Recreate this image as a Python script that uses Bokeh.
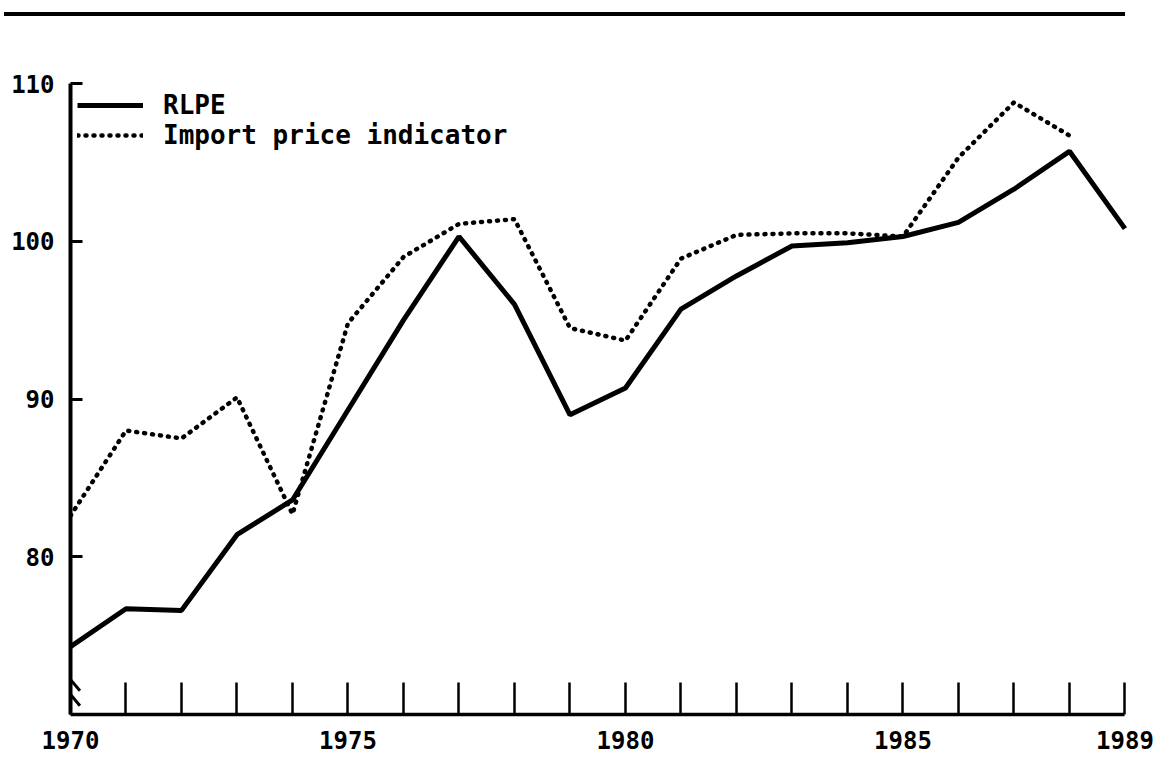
from bokeh.plotting import figure
from bokeh.models import Range1d, FixedTicker, Arrow, Div
from bokeh.layouts import column
from bokeh.embed import file_html
from bokeh.resources import INLINE

# ---- data ----
years = list(range(1970, 1990))
rlpe = [74.3, 76.7, 76.6, 81.4, 83.6, 89.3, 95.0, 100.3, 96.0, 89.0,
        90.7, 95.7, 97.8, 99.7, 99.9, 100.3, 101.2, 103.3, 105.7, 100.8]
import_years = list(range(1970, 1989))
import_price = [82.6, 88.0, 87.5, 90.1, 82.7, 94.8, 99.0, 101.1, 101.4, 94.5,
                93.7, 98.9, 100.4, 100.5, 100.5, 100.3, 105.3, 108.8, 106.7]
x_label_years = [1970, 1975, 1980, 1985, 1989]
y_ticks = [80, 90, 100, 110]
y_min, y_max = 70, 110
x_min, x_max = 1970, 1989

FONT = "DejaVu Sans Mono"

# ---- top rule (decoration) ----
rule = Div(text="", width=1121, height=4, margin=0,
           styles={"background-color": "black", "transform": "translate(4px, 12px)",
                   "position": "relative", "z-index": "5"})

# ---- main chart ----
p = figure(width=1156, height=754,
           x_range=Range1d(x_min, x_max + 0.1), y_range=Range1d(y_min, y_max),
           toolbar_location=None, output_backend="svg",
           min_border_left=70, min_border_right=26, min_border_top=79, min_border_bottom=44,
           outline_line_color=None, border_fill_alpha=0)
p.grid.visible = False

xa = p.xaxis[0]
xa.ticker = FixedTicker(ticks=years)
xa.bounds = (x_min, x_max)
xa.major_label_overrides = {y: (str(y) if y in x_label_years else "") for y in years}
xa.minor_tick_line_color = None
xa.major_tick_in = 32
xa.major_tick_out = 0
xa.major_tick_line_width = 2.5
xa.axis_line_width = 3.5
xa.major_label_text_font = FONT
xa.major_label_text_font_size = "24px"
xa.major_label_text_font_style = "bold"
xa.major_label_text_color = "black"
xa.major_label_standoff = 16

ya = p.yaxis[0]
ya.ticker = FixedTicker(ticks=y_ticks)
ya.bounds = (y_min, y_max)
ya.minor_tick_line_color = None
ya.major_tick_in = 12
ya.major_tick_out = 0
ya.major_tick_line_width = 3
ya.axis_line_width = 4
ya.major_label_text_font = FONT
ya.major_label_text_font_size = "24px"
ya.major_label_text_font_style = "bold"
ya.major_label_text_color = "black"
ya.major_label_standoff = 16

p.line(years, rlpe, line_color="black", line_width=5, legend_label="RLPE")
p.line(import_years, import_price, line_color="black", line_width=4.5,
       line_dash="1 7", line_cap="round", legend_label="Import price indicator")

# axis-break marks on the y axis
for (xs, ys, xe, ye) in [(x_min - 0.13, y_min + 2.76, x_min + 0.17, y_min + 1.5),
                         (x_min - 0.13, y_min + 1.82, x_min + 0.17, y_min + 0.56)]:
    p.add_layout(Arrow(end=None, x_start=xs, y_start=ys, x_end=xe, y_end=ye,
                       line_color="black", line_width=3))

lg = p.legend[0]
lg.location = "top_left"
lg.margin = 7
lg.padding = 0
lg.spacing = 0
lg.glyph_width = 66
lg.glyph_height = 30
lg.label_height = 30
lg.label_standoff = 20
lg.label_text_font = FONT
lg.label_text_font_size = "26px"
lg.label_text_font_style = "bold"
lg.label_text_color = "black"
lg.border_line_color = None
lg.background_fill_alpha = 0

layout = column(rule, p)
open("out.html", "w").write(file_html(layout, INLINE))
